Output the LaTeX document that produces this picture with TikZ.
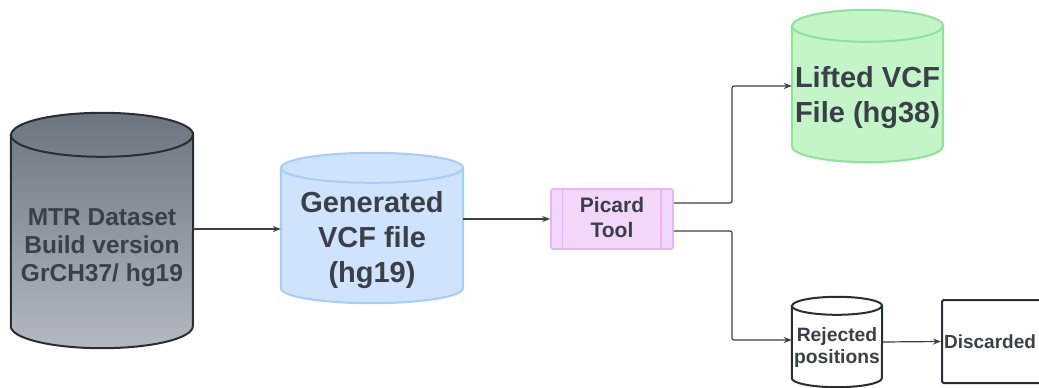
\documentclass[tikz,border=0pt]{standalone}
\usepackage{fontspec}
\setmainfont{Liberation Sans}
\usetikzlibrary{arrows.meta,calc}

\definecolor{ink}{HTML}{3B4048}
\definecolor{darkline}{HTML}{2A2E33}
\definecolor{graytop}{HTML}{6C747E}
\definecolor{graybot}{HTML}{B4B9C1}
\definecolor{bluefill}{HTML}{CFE3FC}
\definecolor{blueline}{HTML}{A8CCF7}
\definecolor{pinkfill}{HTML}{F3D7FB}
\definecolor{pinkline}{HTML}{E4B6F4}
\definecolor{greenfill}{HTML}{C3F5C9}
\definecolor{greenline}{HTML}{8DE399}

% drum: body node, ellipse y-radius, half width, fill options, outline options
\newcommand\drum[5]{%
  \path[#4] ([yshift=-#2pt]#1.north west) -- ([yshift=#2pt]#1.south west)
    arc[start angle=180,end angle=360,x radius=#3pt,y radius=#2pt]
    -- ([yshift=-#2pt]#1.north east)
    arc[start angle=0,end angle=180,x radius=#3pt,y radius=#2pt] -- cycle;
  \draw[#5] ([yshift=-#2pt]#1.north west) -- ([yshift=#2pt]#1.south west)
    arc[start angle=180,end angle=360,x radius=#3pt,y radius=#2pt]
    -- ([yshift=-#2pt]#1.north east)
    arc[start angle=0,end angle=180,x radius=#3pt,y radius=#2pt] -- cycle;
  \draw[#5] ([yshift=-#2pt]#1.north west)
    arc[start angle=180,end angle=360,x radius=#3pt,y radius=#2pt];
}

\begin{document}
\begin{tikzpicture}[x=1pt,y=-1pt,
  body/.style={draw=none,fill=none,inner sep=0pt,rectangle},
  label/.style={text=ink,font=\bfseries,align=center,inner sep=0pt},
  arr/.style={draw=ink,line width=1.2pt,rounded corners=2pt,
    -{Stealth[length=8pt,width=6pt]}}]

\useasboundingbox (0,0) rectangle (1039,388);
\clip (0,0) rectangle (1039,388);

% cylinder bodies
\node[body,minimum width=182pt,minimum height=235pt] (mtr) at (102,230.5) {};
\node[body,minimum width=182pt,minimum height=150pt] (gen) at (372,228) {};
\node[body,minimum width=151pt,minimum height=152pt] (lifted) at (867.5,86) {};
\node[body,minimum width=90pt,minimum height=90pt] (rej) at (837,342) {};

\drum{mtr}{22}{91}{top color=graytop,bottom color=graybot}{darkline,line width=2pt}
\drum{gen}{15}{91}{fill=bluefill}{blueline,line width=2pt}
\drum{lifted}{16}{75.5}{fill=greenfill}{greenline,line width=2pt}
\drum{rej}{9}{45}{fill=white}{darkline,line width=2pt}

% Picard step box with side bars
\node[draw=pinkline,fill=pinkfill,line width=1.6pt,rounded corners=1.5pt,
  minimum width=122pt,minimum height=60pt,inner sep=0pt] (picard) at (612,219) {};
\draw[pinkline,line width=1.4pt] ([xshift=12pt]picard.north west) -- ([xshift=12pt]picard.south west);
\draw[pinkline,line width=1.4pt] ([xshift=-13pt]picard.north east) -- ([xshift=-13pt]picard.south east);

% Discarded box (runs past the right edge)
\node[draw=darkline,fill=white,line width=2pt,rounded corners=1.5pt,
  minimum width=104pt,minimum height=83pt,inner sep=0pt] (disc) at (994,341.5) {};

% texts
\node[label,font=\bfseries\fontsize{24.5}{28}\selectfont] (mtrtext) at (102,248)
  {MTR Dataset\\Build version\\GrCH37/ hg19};
\node[label,font=\bfseries\fontsize{29}{35}\selectfont] (gentext) at (372,240)
  {Generated\\VCF file\\(hg19)};
\node[label,font=\bfseries\fontsize{29}{35}\selectfont] (liftedtext) at (867.5,97.5)
  {Lifted VCF\\File (hg38)};
\node[label,font=\bfseries\fontsize{21}{25}\selectfont] (picardtext) at (612,217.5)
  {Picard\\Tool};
\node[label,font=\bfseries\fontsize{19.3}{22}\selectfont] (rejtext) at (837,348)
  {Rejected\\positions};
\node[label,font=\bfseries\fontsize{19}{22}\selectfont] (disctext) at (990,342)
  {Discarded};

% connectors
\coordinate (fork) at (732,219);
\draw[arr] (mtr.east |- 0,229) -- (gen.west |- 0,229);
\draw[arr] (gen.east |- picard.west) -- (picard.west);
\draw[arr] ([yshift=16pt]picard.east) -- ([yshift=16pt]picard.east -| fork)
  -- (fork |- lifted.west) -- (lifted.west);
\draw[arr] ([yshift=-12pt]picard.east) -- ([yshift=-12pt]picard.east -| fork)
  -- (fork |- 0,340) -- (rej.west |- 0,340);
\draw[arr] (rej.east) -- (disc.west);
\end{tikzpicture}
\end{document}
